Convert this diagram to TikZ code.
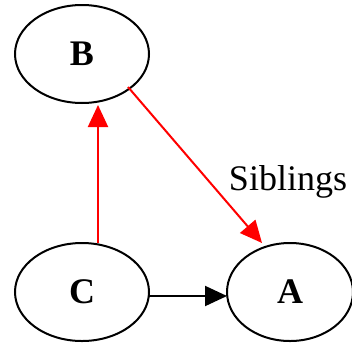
\documentclass[tikz,border=0pt]{standalone}
\usepackage{fontspec}
\setmainfont{Liberation Serif}
\usetikzlibrary{arrows.meta,shapes.geometric,calc}
\begin{document}
\begin{tikzpicture}[x=1pt,y=-1pt,
  nd/.style={draw,ellipse,line width=2pt,font=\bfseries\fontsize{36}{36}\selectfont,inner sep=0pt,minimum height=98pt},
  edge/.style={line width=2pt,-{Triangle[length=22pt,width=20pt]}}]
\useasboundingbox (0,0) rectangle (352,343);
\node[nd,minimum width=134pt] (B) at (82,54) {B};
\node[nd,minimum width=134pt] (C) at (82,292) {C};
\node[nd,minimum width=126pt] (A) at (290,292) {A};
\draw[edge,red] ($(C)+(16,-49)$) -- ($(B)+(16,51)$);
\draw[edge,red] ($(B)+(46,33)$) -- ($(A)+(-28,-49)$);
\draw[edge,black] ($(C)+(67,4)$) -- ($(A)+(-63,4)$);
\node[font=\fontsize{36}{36}\selectfont,anchor=base] (L) at (288,190) {Siblings};
\end{tikzpicture}
\end{document}
